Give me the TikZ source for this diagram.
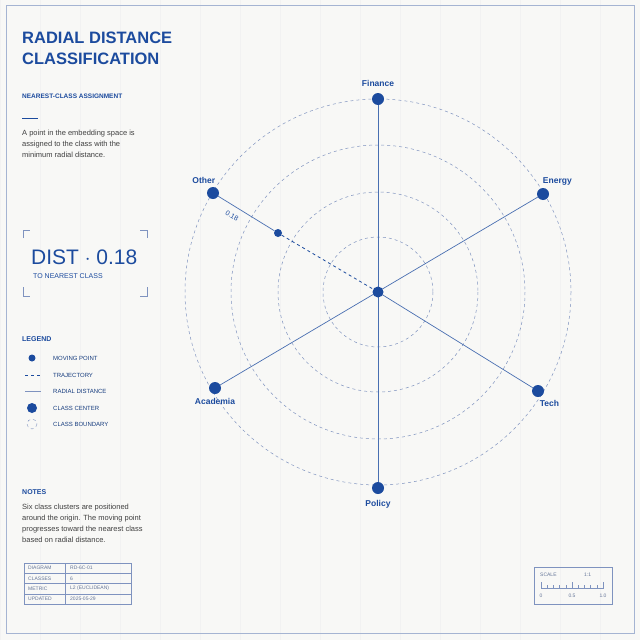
\documentclass[tikz,border=0pt]{standalone}
\usepackage{fontspec}
\setmainfont{Liberation Sans}
\usetikzlibrary{calc,positioning}
\definecolor{ink}{HTML}{1C4B9E}
\definecolor{soft}{HTML}{7F93BF}
\definecolor{paper}{HTML}{F8F8F6}
\tikzset{
  lbl/.style={text=ink,font=\bfseries\fontsize{8.5}{10}\selectfont},
  small/.style={text=ink!80!black,font=\fontsize{6}{7}\selectfont,anchor=west,inner sep=0},
  body/.style={text=black!75,font=\fontsize{7.5}{11}\selectfont,anchor=north west,align=left,inner sep=0},
  ring/.style={draw=soft,dashed,line width=0.5pt},
  center/.style={circle,fill=ink,minimum size=12pt,inner sep=0},
  spoke/.style={draw=ink!80,line width=0.7pt},
  tiny/.style={text=soft!80!black,font=\fontsize{5}{6}\selectfont,anchor=west,inner sep=0}
}
\begin{document}
\begin{tikzpicture}[x=1pt,y=-1pt]
\useasboundingbox (0,0) rectangle (640,640);
\fill[paper] (0,0) rectangle (640,640);
\draw[black!5,line width=0.3pt,step=40] (0,0) grid (640,640);
\draw[soft!70,line width=0.8pt] (6,5) rectangle (634,633);

% radial rings
\coordinate (o) at (378,292);
\foreach \r in {55,100,147,193} \draw[ring] (o) circle (\r);

% class centers
\node[center] (fin) at (378,99) {};
\node[center] (ene) at (543,194) {};
\node[center] (tec) at (538,391) {};
\node[center] (pol) at (378,488) {};
\node[center] (aca) at (215,388) {};
\node[center] (oth) at (213,193) {};
\node[lbl,above=3pt of fin] {Finance};
\node[lbl,above right=1pt and -8pt of ene] {Energy};
\node[lbl,below right=1pt and -6pt of tec] {Tech};
\node[lbl,below=3pt of pol] {Policy};
\node[lbl,below=1pt of aca] {Academia};
\node[lbl,above left=2pt and -10pt of oth] {Other};

\draw[spoke] (fin) -- (pol);
\draw[spoke] (ene) -- (aca);
\draw[spoke] (o) -- (tec);
\node[circle,fill=ink,minimum size=11pt,inner sep=0] (org) at (o) {};
\node[circle,fill=ink,minimum size=8pt,inner sep=0] (pt) at (278,233) {};
\draw[spoke] (oth) -- (pt);
\node[text=ink,font=\fontsize{7}{8}\selectfont,rotate=-30,inner sep=0] (gap) at (232,216) {0.18};
\draw[ink,dashed,line width=0.8pt] (pt) -- (org);

% left column
\node[text=ink,font=\bfseries\fontsize{16.5}{21}\selectfont,anchor=north west,align=left,inner sep=0] (title) at (22,32) {RADIAL DISTANCE\\CLASSIFICATION};
\node[text=ink,font=\bfseries\fontsize{6.5}{7}\selectfont,anchor=west,inner sep=0] (sub) at (22,96) {NEAREST-CLASS ASSIGNMENT};
\draw[ink,line width=1pt] (22,118) -- (38,118);
\node[body] (intro) at (22,130) {A point in the embedding space is\\assigned to the class with the\\minimum radial distance.};

% distance box
\draw[soft,line width=0.8pt] (23,238) |- (30,230) (140,230) -| (147,238)
  (23,287) |- (30,296) (140,296) -| (147,287);
\node[text=ink,font=\fontsize{21}{22}\selectfont,anchor=west,inner sep=0] (dist) at (31,257) {DIST $\cdot$ 0.18};
\node[text=ink,font=\fontsize{7}{8}\selectfont,anchor=west,inner sep=0] at (33,276) {TO NEAREST CLASS};

% legend
\node[text=ink,font=\bfseries\fontsize{7}{8}\selectfont,anchor=west,inner sep=0] at (22,339) {LEGEND};
\fill[ink] (32,358) circle (3.5);
\draw[ink,dashed,line width=0.6pt] (25,375) -- (41,375);
\draw[soft,line width=0.8pt] (25,391) -- (41,391);
\fill[ink] (32,408) circle (5);
\draw[soft,dashed,line width=0.4pt] (32,424) circle (5);
\foreach \y/\t in {358/MOVING POINT,375/TRAJECTORY,391/RADIAL DISTANCE,408/CLASS CENTER,424/CLASS BOUNDARY}
  \node[small] at (53,\y) {\t};

% notes
\node[text=ink,font=\bfseries\fontsize{7}{8}\selectfont,anchor=west,inner sep=0] at (22,492) {NOTES};
\node[body] at (22,504) {Six class clusters are positioned\\around the origin. The moving point\\progresses toward the nearest class\\based on radial distance.};

% table
\draw[soft,line width=0.5pt] (24,563) rectangle (131,604);
\foreach \y in {573.25,583.5,593.75} \draw[soft,line width=0.5pt] (24,\y) -- (131,\y);
\draw[soft,line width=0.5pt] (65,563) -- (65,604);
\foreach \y/\a/\b in {568/DIAGRAM/RD-6C-01,578.5/CLASSES/6,588.5/METRIC/L2 (EUCLIDEAN),599/UPDATED/2025-05-29}{
  \node[tiny] at (28,\y) {\a};
  \node[tiny] at (70,\y) {\b};
}

% scale
\draw[soft,line width=0.5pt] (534,567) rectangle (612,604);
\node[tiny] at (540,575) {SCALE};
\node[tiny] at (584,575) {1:1};
\draw[soft,line width=0.5pt] (541,582) -- (541,588) -- (603,588) -- (603,582);
\foreach \i in {1,...,9} \draw[soft,line width=0.4pt] ({541+6.2*\i},588) -- ++(0,-3);
\draw[soft,line width=0.5pt] (572,588) -- ++(0,-6);
\node[tiny,anchor=center] at (541,596) {0};
\node[tiny,anchor=center] at (572,596) {0.5};
\node[tiny,anchor=center] at (603,596) {1.0};
\end{tikzpicture}
\end{document}
